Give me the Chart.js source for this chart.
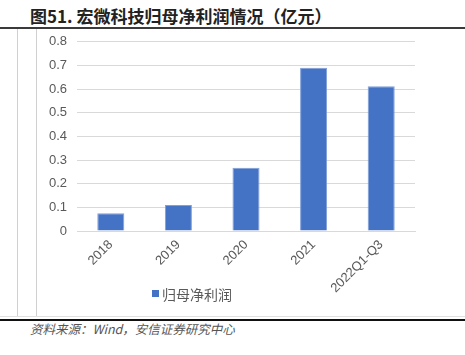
<!DOCTYPE html>
<html>
<head>
<meta charset="utf-8">
<script src="https://cdn.jsdelivr.net/npm/chart.js@4/dist/chart.umd.min.js"></script>
<style>
  html, body { margin: 0; padding: 0; background: #fff; }
  body { width: 465px; height: 355px; position: relative; overflow: hidden;
         font-family: "Noto Sans CJK SC", "DejaVu Sans", sans-serif; }
  #title { position: absolute; left: 30px; top: 5px; font-size: 17px; font-weight: bold;
           color: #222; white-space: nowrap; line-height: 22px; }
  #topline { position: absolute; left: 0; top: 27px; width: 465px; height: 2px; background: #3a3a3a; }
  .vline { position: absolute; top: 29px; width: 1px; height: 288px; background: #d0d0d0; }
  #lowlight { position: absolute; left: 0; top: 316px; width: 465px; height: 1px; background: #e0e0e0; }
  #botline { position: absolute; left: 0; top: 319px; width: 465px; height: 2px; background: #111; }
  #source { position: absolute; left: 30px; top: 320px; font-size: 12.5px; font-style: italic;
            color: #555; white-space: nowrap; line-height: 18px; }
  #wrap { position: absolute; left: 37px; top: 24px; width: 428px; height: 292px; }
  #legend { position: absolute; left: 152px; top: 285px; font-size: 14px; color: #595959;
            white-space: nowrap; line-height: 18px; }
  #legend .sw { display: inline-block; width: 7px; height: 7px; background: #4472C4;
                margin-right: 3px; vertical-align: 3px; }
</style>
</head>
<body>
<div id="title">图51. 宏微科技归母净利润情况（亿元）</div>
<div id="topline"></div>
<div class="vline" style="left:17px"></div>
<div class="vline" style="left:36px"></div>
<div id="lowlight"></div>
<div id="botline"></div>
<div id="source">资料来源：Wind，安信证券研究中心</div>
<div id="wrap"><canvas id="c"></canvas></div>
<div id="legend"><span class="sw"></span>归母净利润</div>
<script>
const categories = ["2018", "2019", "2020", "2021", "2022Q1-Q3"];
const seriesName = "归母净利润";
const netProfit = [0.075, 0.11, 0.267, 0.69, 0.612];
const yTicks = [0, 0.1, 0.2, 0.3, 0.4, 0.5, 0.6, 0.7, 0.8];

const ctx = document.getElementById('c');
new Chart(ctx, {
  type: 'bar',
  data: {
    labels: categories,
    datasets: [{
      label: seriesName,
      data: netProfit,
      backgroundColor: '#4472C4',
      borderColor: '#7f9fd8',
      borderWidth: 1,
      barPercentage: 0.4,
      categoryPercentage: 1.0
    }]
  },
  options: {
    responsive: true,
    maintainAspectRatio: false,
    animation: false,
    devicePixelRatio: 1,
    layout: { padding: { top: 5, right: 50, left: 0, bottom: 0 } },
    plugins: { legend: { display: false }, tooltip: { enabled: false } },
    scales: {
      x: {
        grid: { display: false, drawTicks: false },
        border: { display: true, color: '#d9d9d9', width: 1 },
        ticks: {
          color: '#595959',
          font: { family: 'Liberation Sans', size: 13 },
          maxRotation: 45, minRotation: 45,
          padding: 6,
          autoSkip: false
        },
        afterFit: (s) => { s.height = 85; }
      },
      y: {
        min: 0, max: 0.8,
        afterBuildTicks: (s) => { s.ticks = yTicks.map(v => ({ value: v })); },
        grid: { color: '#d9d9d9', drawTicks: false, lineWidth: 1 },
        border: { display: false },
        ticks: {
          color: '#595959',
          font: { family: 'Liberation Sans', size: 13 },
          padding: 10,
          callback: (v) => String(Math.round(v * 10) / 10)
        },
        afterFit: (s) => { s.width = 40; }
      }
    }
  }
});
</script>
</body>
</html>
